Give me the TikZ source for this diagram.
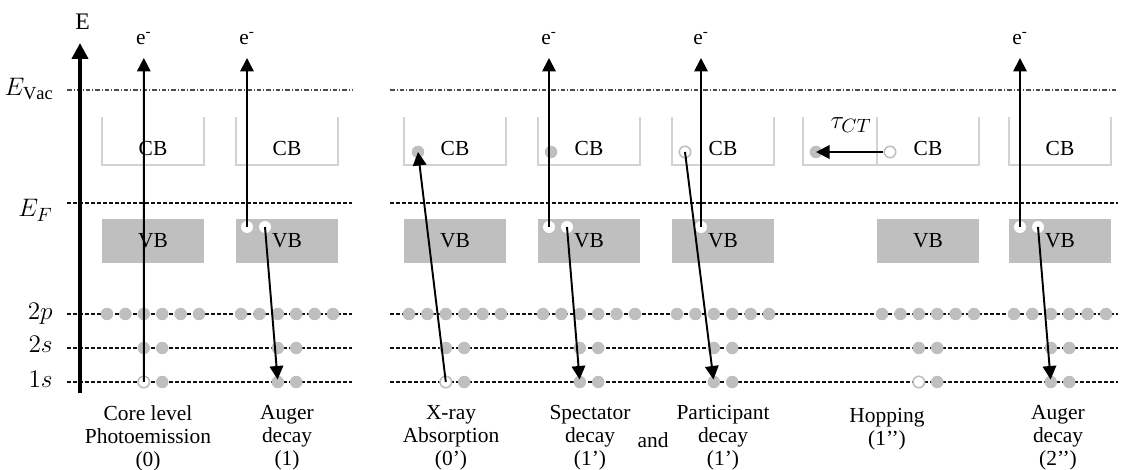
\documentclass[tikz,border=0pt]{standalone}
\usepackage{fontspec}
\setmainfont{Liberation Serif}
\usepackage{amsmath}
\usetikzlibrary{positioning,arrows.meta,calc}
\definecolor{ink}    {HTML}{000000}
\definecolor{shade}  {HTML}{BFBFBF}
\definecolor{cbline} {HTML}{D2D2D2}
\definecolor{guide}  {HTML}{111111}
\tikzset{
  every node/.style={font=\fontsize{12.2}{13.1}\selectfont},
  % --- nodes
  elec/.style   = {circle, fill=shade, draw=none, inner sep=0pt, minimum size=0.25cm},
  hole/.style   = {circle, fill=white, draw=shade, line width=0.9pt, inner sep=0pt, minimum size=0.23cm},
  vbhole/.style = {circle, fill=white, draw=none, inner sep=0pt, minimum size=0.24cm},
  vbbox/.style  = {fill=shade, draw=none, inner sep=0pt, minimum width=2.04cm, minimum height=0.88cm},
  cbbox/.style  = {draw=cbline, line width=0.6pt},
  lvl/.style    = {font=\fontsize{15}{17}\selectfont, anchor=base east, inner sep=0pt},
  capt/.style   = {align=center, inner sep=0pt},
  elab/.style   = {inner sep=0pt},
  taulbl/.style = {font=\fontsize{15.5}{17}\selectfont, inner sep=0pt},
  % --- lines
  lev/.style    = {draw=guide, line width=0.6pt, dash pattern=on 0.07cm off 0.05cm},
  vac/.style    = {draw=guide!75, line width=0.6pt, dash pattern=on 0.09cm off 0.04cm on 0.02cm off 0.04cm},
  e/.style      = {-{Triangle[length=0.27cm,width=0.27cm]}, line width=1.1pt, draw=ink},
  axis/.style   = {-{Triangle[length=0.32cm,width=0.32cm]}, line width=2.3pt, draw=ink},
}
\begin{document}
\begin{tikzpicture}
  \useasboundingbox (0,0) rectangle (22.46,9.38);

  % --- energy levels (gap between the two groups)
  \foreach \ly/\lsty in {7.58/vac, 5.32/lev, 3.10/lev, 2.42/lev, 1.74/lev}{
    \draw[\lsty] (1.34,\ly) -- (7.04,\ly);
    \draw[\lsty] (7.80,\ly) -- (22.36,\ly);
  }
  \node[lvl] (lvac) at (1.08,7.46) {$E_{\mathrm{Vac}}$};
  \node[lvl] (lf)   at (1.06,5.04) {$E_F$};
  \node[lvl] (l2p)  at (1.06,3.00) {$2p$};
  \node[lvl] (l2s)  at (1.06,2.32) {$2s$};
  \node[lvl] (l1s)  at (1.06,1.62) {$1s$};

  % --- energy axis
  \coordinate (ax0) at (1.6,1.52);
  \coordinate (ax1) at (1.6,8.52);
  \draw[axis] (ax0) -- (ax1);
  \node[above=0.26cm of ax1, elab, xshift=0.05cm, font=\fontsize{13.5}{15}\selectfont] (elbl) {E};

  % --- extra CB of the neighbouring site (hopping)
  \draw[cbbox] (16.06,7.04) |- (17.54,6.08) -- (17.54,7.04);

  % --- panels: bands and core levels
  \foreach \pn/\px/\kind in {p0/3.06/hole, p1/5.74/elec, q0/9.10/hole, q1/11.78/elec,
                             r1/14.46/elec, h1/18.56/hole, h2/21.20/elec}{
    \draw[cbbox] (\px-1.02,7.04) |- (\px+1.02,6.08) -- (\px+1.02,7.04);
    \node (\pn-cb) at (\px,6.41) {CB};
    \node[vbbox] (\pn-vb) at (\px,4.56) {VB};
    \foreach \i/\dx in {1/-0.92, 2/-0.552, 3/-0.184, 4/0.184, 5/0.552, 6/0.92}
      \node[elec] (\pn-2p\i) at (\px+\dx,3.10) {};
    \node[elec]  (\pn-2sa) at (\px-0.184,2.42) {};
    \node[elec]  (\pn-2sb) at (\px+0.184,2.42) {};
    \node[\kind] (\pn-1sa) at (\px-0.184,1.74) {};
    \node[elec]  (\pn-1sb) at (\px+0.184,1.74) {};
  }

  % --- holes and electrons in the bands
  \node[vbhole] (p1-va) at (4.94,4.84) {};
  \node[vbhole] (p1-vb) at (5.30,4.84) {};
  \node[elec]   (q0-cd) at (8.36,6.34) {};
  \node[elec]   (q1-cd) at (11.02,6.34) {};
  \node[vbhole] (q1-va) at (10.98,4.84) {};
  \node[vbhole] (q1-vb) at (11.34,4.84) {};
  \node[hole]   (r1-ch) at (13.70,6.34) {};
  \node[vbhole] (r1-va) at (14.02,4.84) {};
  \node[elec]   (h1-cd) at (16.32,6.34) {};
  \node[hole]   (h1-ch) at (17.80,6.34) {};
  \node[vbhole] (h2-va) at (20.40,4.84) {};
  \node[vbhole] (h2-vb) at (20.76,4.84) {};

  % --- emitted electrons
  \foreach \pn/\ex in {p0/2.876, p1/4.94, q1/10.98, r1/14.02, h2/20.40}{
    \coordinate (\pn-tip) at (\ex,8.22);
    \node[elab, above=0.26cm of \pn-tip] (\pn-e) {e\textsuperscript{-}};
  }
  \draw[e] (p0-1sa.center) -- (p0-tip);
  \draw[e] (p1-va.center)  -- (p1-tip);
  \draw[e] (q1-va.center)  -- (q1-tip);
  \draw[e] (r1-va.center)  -- (r1-tip);
  \draw[e] (h2-va.center)  -- (h2-tip);

  % --- decays, absorption and hopping
  \draw[e, shorten >=0.05cm] (p1-vb.center) -- (p1-1sa.center);
  \draw[e] (q0-1sa.center) -- (q0-cd.center);
  \draw[e, shorten >=0.05cm] (q1-vb.center) -- (q1-1sa.center);
  \draw[e, shorten >=0.05cm] (r1-ch.center) -- (r1-1sa.center);
  \draw[e, shorten >=0.05cm] (h2-vb.center) -- (h2-1sa.center);
  \draw[e] (h1-ch) -- (h1-cd.center);
  \node[taulbl] (tau) at (17.02,6.88) {$\tau_{CT}$};

  % --- captions
  \node[capt] (c-p0) at (2.96,0.62)  {Core level\\Photoemission\\(0)};
  \node[capt] (c-p1) at (5.74,0.62)  {Auger\\decay\\(1)};
  \node[capt] (c-q0) at (9.02,0.62)  {X-ray\\Absorption\\(0’)};
  \node[capt] (c-q1) at (11.80,0.62) {Spectator\\decay\\(1’)};
  \node[capt] (c-and) at (13.06,0.58) {and};
  \node[capt] (c-r1) at (14.46,0.62) {Participant\\decay\\(1’)};
  \node[capt] (c-h1) at (17.74,0.80) {Hopping\\(1’’)};
  \node[capt] (c-h2) at (21.16,0.62) {Auger\\decay\\(2’’)};
\end{tikzpicture}
\end{document}
